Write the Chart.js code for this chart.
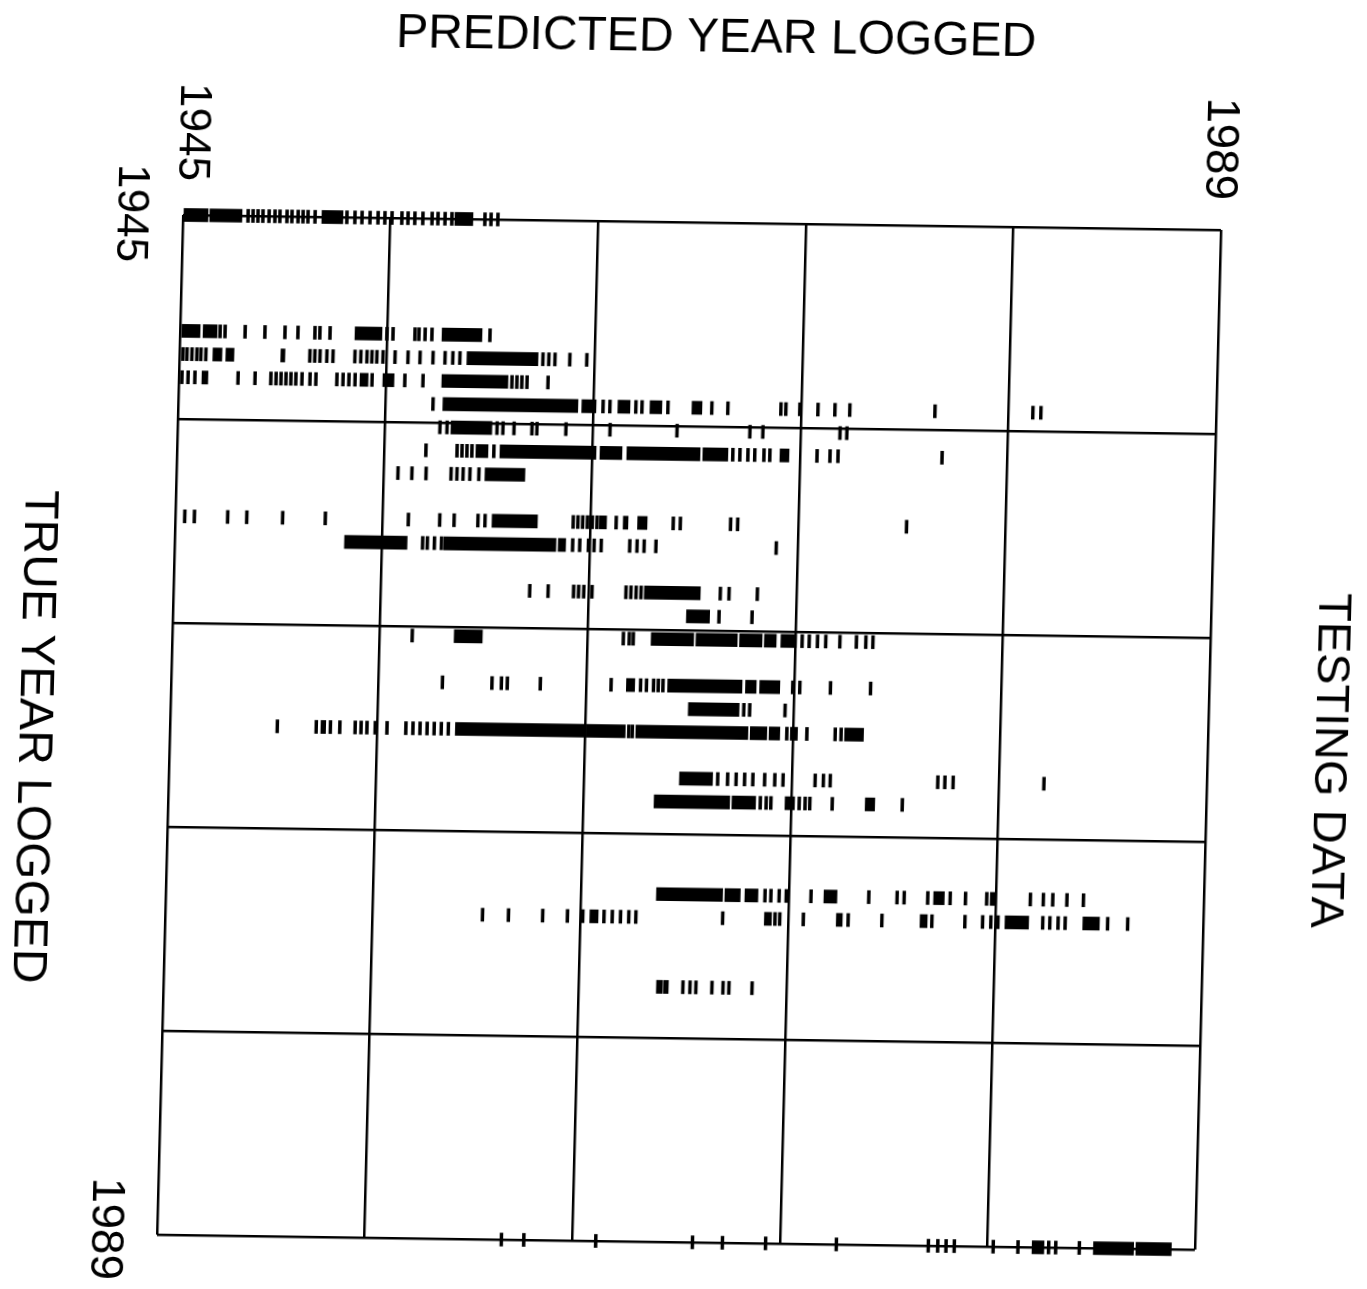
<!DOCTYPE html>
<html><head><meta charset="utf-8">
<script src="https://cdn.jsdelivr.net/npm/chart.js@4/dist/chart.umd.min.js"></script>
<style>
html,body{margin:0;padding:0;background:#fff;overflow:hidden;width:1367px;height:1289px;}
#wrap{position:absolute;left:0;top:0;width:1367px;height:1289px;
  transform-origin:183px 215px; transform:matrix(1,0.01445,-0.0255,1,0,0);}
canvas{display:block;}
</style></head><body>
<div id="wrap"><canvas id="c" width="1367" height="1289"></canvas></div>
<script>
// ---- tick labels / titles ----
const axisMin = 1945, axisMax = 1989;
const gridYears = [1945, 1953.8, 1962.6, 1971.4, 1980.2, 1989];
const tickLabels = ['1945', '1989'];
const titleTop = 'PREDICTED YEAR LOGGED';
const titleLeft = 'TRUE YEAR LOGGED';
const titleRight = 'TESTING DATA';

// ---- marks per true year: number = single tick at predicted year, [a,b] = solid run ----
const r1945 = [[1945.04,1946.06],[1946.14,1947.50],1947.76,1947.97,1948.18,1948.39,1948.65,1948.90,1949.11,1949.41,1949.62,1949.88,1950.09,1950.30,1950.60,[1950.89,1951.78],1951.95,1952.29,1952.59,1952.93,1953.27,1953.56,1953.86,1954.28,1954.54,1954.83,1955.17,1955.56,1955.81,1956.11,1956.40,[1956.53,1957.29],1957.80,1958.06,1958.35];
const r1950 = [[1945.08,1945.85],[1945.98,1946.57],1946.70,1946.91,1947.76,1948.60,1949.45,1950.00,1950.72,1950.93,1951.36,[1952.42,1953.56],1953.77,1954.03,1954.96,1955.13,1955.39,1955.68,[1956.11,1957.80],1958.14];
const r1951 = [1945.15,1945.32,1945.53,1945.74,1945.91,1946.12,[1946.42,1946.80],[1946.97,1947.31],[1949.30,1949.47],1950.53,1950.74,1950.96,1951.25,1951.51,1952.44,1952.69,1952.95,1953.16,1953.37,1953.63,1954.14,1954.69,1955.20,1955.75,1956.26,1956.59,1956.89,[1957.19,1960.20],1960.41,1960.66,1960.92,1961.55,1962.27];
const r1952 = [1945.13,1945.39,1945.68,[1945.98,1946.23],1947.51,1948.23,1948.90,1949.12,1949.33,1949.54,1949.75,1949.96,1950.22,1950.56,1950.81,1951.70,1951.96,1952.21,1952.47,[1952.68,1953.02],1953.19,[1953.65,1954.12],1954.58,1955.35,[1956.15,1958.95],1959.12,1959.33,1959.54,1959.76,1960.65];
const r1953 = [1955.80,[1956.22,1961.94],[1962.11,1962.71],1963.01,1963.30,[1963.64,1964.15],1964.40,1964.66,[1965.00,1965.50],1965.76,[1966.78,1967.20],1967.62,1968.30,1970.55,1970.76,1971.35,1972.12,1972.84,1973.47,1977.08,1981.23,1981.57];
const r1954 = [1956.12,1956.42,[1956.59,1958.32],1958.54,1958.79,1959.26,1960.02,1960.23,1961.46,1963.33,1966.17,1969.26,1969.81,1973.08,1973.37];
const r1955 = [1955.55,1956.87,1957.08,1957.29,1957.50,[1957.67,1958.18],1958.43,[1958.69,1962.76],[1962.93,1963.86],[1964.07,1967.17],[1967.29,1968.35],1968.56,1968.86,1969.20,1969.49,1969.88,1970.13,[1970.56,1970.94],1972.13,1972.68,1973.02,1977.43];
const r1956 = [1954.39,1954.98,1955.58,1956.64,1956.89,1957.15,1957.44,1957.82,[1958.08,1959.77]];
const r1958 = [1945.40,1945.81,1947.22,1948.03,1949.55,1951.36,1954.88,1956.21,1956.82,1957.83,1958.13,[1958.43,1960.35],1961.87,1962.07,1962.27,1962.47,1962.68,1962.88,[1962.98,1963.28],1963.69,[1963.99,1964.19],[1964.60,1965.00],1966.11,1966.41,1968.54,1968.84,1976.0];
const r1959 = [[1952.20,1954.85],1955.51,1955.71,1956.01,1956.31,[1956.41,1961.16],[1961.26,1961.57],1961.87,1962.17,1962.54,1962.78,1963.08,1964.29,1964.60,1964.90,1965.40,1970.5];
const r1961 = [1960.10,1960.88,1961.96,1962.17,1962.39,1962.74,1964.18,1964.39,1964.61,1964.82,[1964.96,1967.33],1968.18,1968.55,1969.75];
const r1962 = [[1966.77,1967.75],1968.15,1969.55];
const r1963 = [1955.17,[1956.95,1958.14],1964.12,1964.37,1964.54,[1965.3,1967.1],[1967.2,1968.95],[1969.05,1970.0],[1970.1,1970.6],[1970.8,1971.45],1971.7,1972.0,1972.35,1972.7,1973.3,1974.0,1974.4,1974.7];
const r1965 = [1956.5,1958.6,1959.0,1959.25,1960.65,1963.65,[1964.3,1964.65],1964.9,1965.15,1965.45,1965.65,1965.85,[1966.05,1969.2],[1969.35,1969.8],[1969.95,1970.8],1971.35,1971.65,1972.95,1974.65];
const r1966 = [[1966.95,1969.1],1969.3,1969.55,1971.05];
const r1967 = [1949.55,1951.2,[1951.4,1951.6],1951.8,1952.2,1952.85,1953.1,1953.35,1953.7,1954.2,1955.0,1955.3,1955.6,1955.9,1956.2,1956.5,1956.8,[1957.1,1962.55],[1962.65,1964.3],1964.45,1964.6,[1964.75,1969.5],[1969.6,1970.3],[1970.4,1970.85],1971.15,[1971.3,1971.6],1972.0,1973.2,1973.45,[1973.6,1974.4]];
const r1969 = [[1966.65,1968.05],1968.27,1968.69,1969.05,1969.41,1969.76,1970.26,1970.69,1971.04,1972.4,1972.75,1973.04,1977.6,1977.9,1978.25,1982.1];
const r1970 = [[1965.6,1968.8],[1968.9,1969.9],1970.1,1970.35,1970.55,[1971.15,1971.55],1971.75,1972.0,1972.2,1973.15,[1974.55,1974.95],1976.12];
const r1974 = [[1965.8,1968.6],[1968.7,1969.35],[1969.55,1970.1],1970.4,1970.65,1971.0,1971.3,1972.35,[1972.9,1973.45],1974.8,1976.0,1976.3,1977.3,[1977.55,1978.0],1978.25,1978.9,1979.8,[1979.95,1980.2],1981.65,1982.2,1982.6,1983.2,1983.9];
const r1975 = [1958.45,1959.55,1961.0,1962.05,1962.7,[1963.0,1963.35],1963.6,1963.95,1964.3,1964.65,1964.95,1968.63,[1970.4,1970.7],1970.85,1971.05,1972.05,[1973.45,1973.7],1973.95,1975.38,[1977.0,1977.3],1977.5,1978.9,1979.65,1980.0,1980.3,[1980.6,1981.6],1982.2,1982.5,1982.85,1983.15,[1983.9,1984.6],1984.95,1985.8];
const r1978 = [[1965.9,1966.15],[1966.2,1966.4],1967.02,1967.32,1967.57,1968.25,1968.72,1968.97,1969.95];
const r1989 = [1959.6,1960.55,1963.6,1967.7,1968.97,1970.8,1973.8,1977.7,1978.1,1978.45,1978.8,1980.45,1981.5,[1982.1,1982.6],1982.8,1983.1,1984.1,[1984.7,1986.4],[1986.5,1988.0]];

const rows = {1945:r1945,1950:r1950,1951:r1951,1952:r1952,1953:r1953,1954:r1954,1955:r1955,1956:r1956,
  1958:r1958,1959:r1959,1961:r1961,1962:r1962,1963:r1963,1965:r1965,1966:r1966,1967:r1967,
  1969:r1969,1970:r1970,1974:r1974,1975:r1975,1978:r1978,1989:r1989};

const TICK_HALF = 0.06;
const marks = [];
Object.keys(rows).forEach(k => {
  rows[k].forEach(m => {
    marks.push({ y: +k, x: Array.isArray(m) ? m : [m - TICK_HALF, m + TICK_HALF] });
  });
});

const FONT = '"Liberation Sans", Arial, Helvetica, sans-serif';
const textPlugin = {
  id: 'texts',
  beforeDraw(chart) {
    const c = chart.ctx;
    c.save(); c.fillStyle = '#fff'; c.fillRect(0, 0, chart.width, chart.height); c.restore();
  },
  afterDraw(chart) {
    const c = chart.ctx, a = chart.chartArea, xs = chart.scales.x, ys = chart.scales.y;
    c.save();
    c.fillStyle = '#000';
    c.textAlign = 'center';
    c.textBaseline = 'middle';
    c.font = '48px ' + FONT;
    c.fillText(titleTop, (a.left + a.right) / 2 + 9.5, a.top - 184);
    const vText = (t, x, y, size) => {
      c.save(); c.translate(x, y); c.rotate(Math.PI / 2);
      c.font = size + 'px ' + FONT; c.fillText(t, 0, 0); c.restore();
    };
    vText(tickLabels[0], xs.getPixelForValue(axisMin) + 7, a.top - 83, 44);
    vText(tickLabels[1], xs.getPixelForValue(axisMax) - 3, a.top - 81, 46);
    vText(tickLabels[0], a.left - 53, ys.getPixelForValue(axisMin) - 1, 44);
    vText(tickLabels[1], a.left - 52, ys.getPixelForValue(axisMax) - 5, 46);
    vText(titleLeft, a.left - 137, (a.top + a.bottom) / 2 + 14, 48);
    vText(titleRight, a.right + 121, (a.top + a.bottom) / 2 + 19, 47);
    c.restore();
  }
};

const gridOpts = { color: '#000', lineWidth: 2.5, drawTicks: false, offset: false };
new Chart(document.getElementById('c'), {
  type: 'bar',
  data: { datasets: [{ label: 'Testing data', data: marks, backgroundColor: '#000', borderWidth: 0,
    barThickness: 13, grouped: false, clip: false }] },
  options: {
    indexAxis: 'y', responsive: false, animation: false,
    layout: { padding: { left: 183, top: 215, right: 146, bottom: 54 } },
    plugins: { legend: { display: false }, tooltip: { enabled: false } },
    scales: {
      x: { type: 'linear', position: 'top', min: axisMin, max: axisMax, offset: false,
        afterBuildTicks: s => { s.ticks = gridYears.map(v => ({ value: v })); },
        ticks: { display: false }, grid: gridOpts, border: { display: false } },
      y: { type: 'linear', min: axisMin, max: axisMax, reverse: true, offset: false,
        afterBuildTicks: s => { s.ticks = gridYears.map(v => ({ value: v })); },
        ticks: { display: false }, grid: gridOpts, border: { display: false } }
    }
  },
  plugins: [textPlugin]
});
</script>
</body></html>
